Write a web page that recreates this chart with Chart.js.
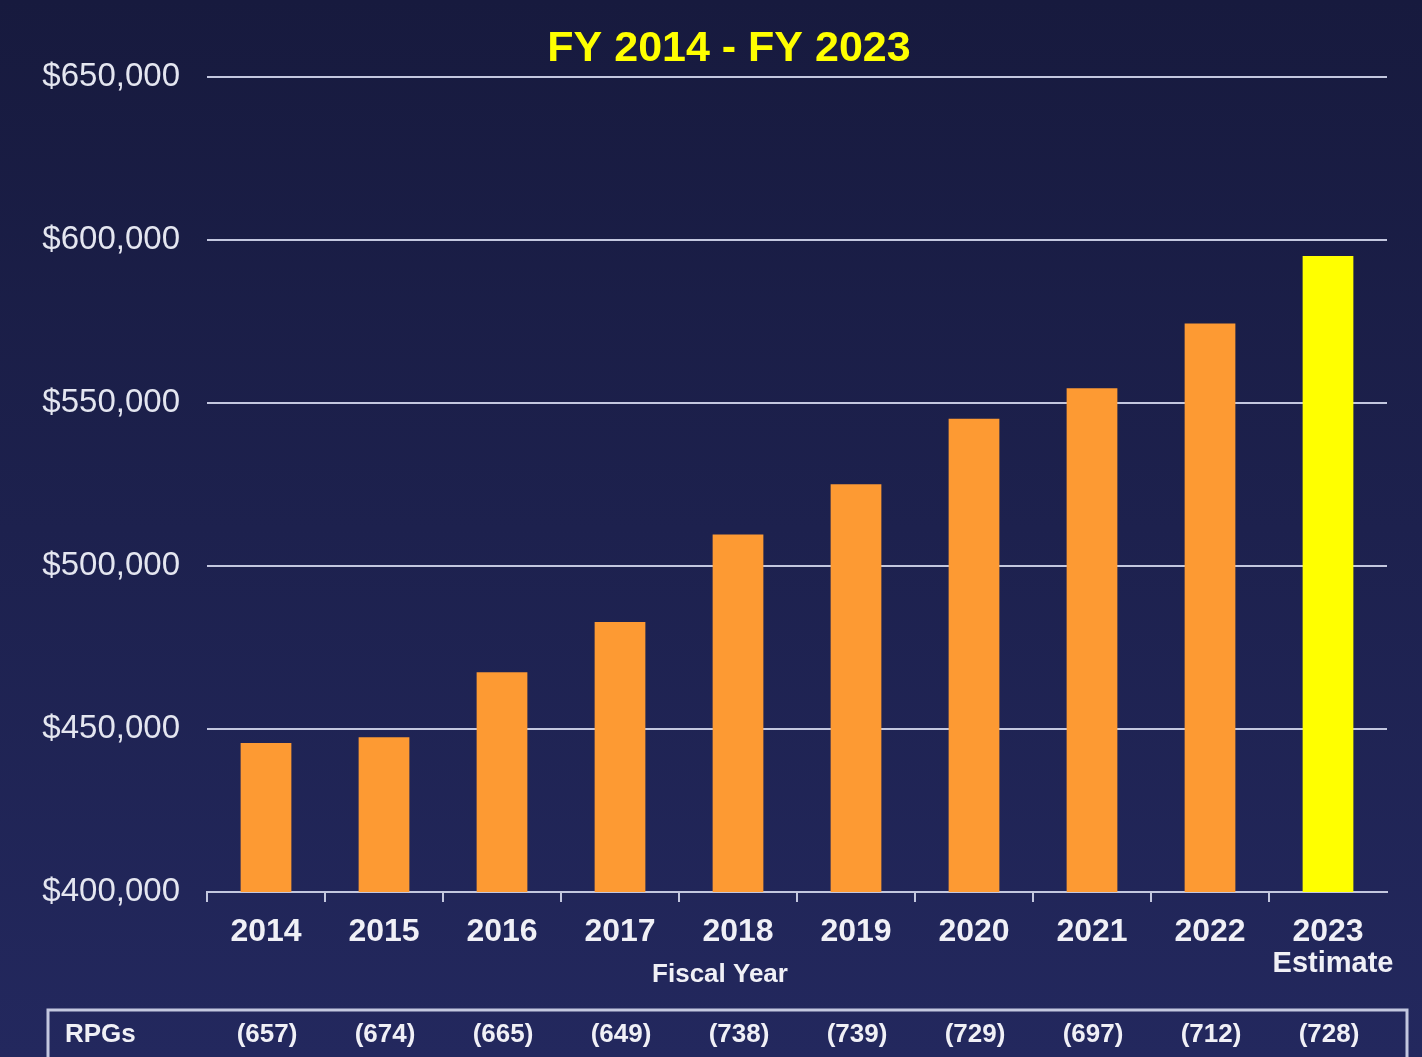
<!DOCTYPE html>
<html>
<head>
<meta charset="utf-8">
<script src="https://cdn.jsdelivr.net/npm/chart.js@4"></script>
<style>
  html, body { margin: 0; padding: 0; background: #1d2150; }
  #wrap { width: 1422px; height: 1057px; position: relative; }
</style>
</head>
<body>
<div id="wrap"><canvas id="c" width="1422" height="1057"></canvas></div>
<script>
const titleText = 'FY 2014 - FY 2023';
const categories = ['2014', '2015', '2016', '2017', '2018', '2019', '2020', '2021', '2022', '2023'];
const spending = [445700, 447500, 467400, 482800, 509700, 525100, 545200, 554500, 574400, 595100];
const rpgs = ['(657)', '(674)', '(665)', '(649)', '(738)', '(739)', '(729)', '(697)', '(712)', '(728)'];
const yTicks = [400000, 450000, 500000, 550000, 600000, 650000];
const axisTitle = 'Fiscal Year';
const estimateNote = 'Estimate';
const rowLabel = 'RPGs';

const lineColor = '#c3c7df';
const orange = '#fd9a33';
const yellow = '#ffff00';

const bgPlugin = {
  id: 'bg',
  beforeDraw(chart) {
    const ctx = chart.ctx;
    const g = ctx.createLinearGradient(0, 0, 0, chart.height);
    g.addColorStop(0, '#171a3e');
    g.addColorStop(1, '#23285e');
    ctx.save();
    ctx.fillStyle = g;
    ctx.fillRect(0, 0, chart.width, chart.height);
    ctx.restore();
  }
};

const extrasPlugin = {
  id: 'extras',
  afterDraw(chart) {
    const ctx = chart.ctx;
    const xs = chart.scales.x;
    ctx.save();
    // title
    ctx.fillStyle = yellow;
    ctx.font = 'bold 43px "Liberation Sans", Arial, sans-serif';
    ctx.textAlign = 'center';
    ctx.textBaseline = 'middle';
    ctx.fillText(titleText, 729, 49);
    // Estimate note under last category
    ctx.fillStyle = '#f0f0f6';
    ctx.font = 'bold 29px "Liberation Sans", Arial, sans-serif';
    ctx.fillText(estimateNote, xs.getPixelForValue(categories.length - 1) + 5, 964);
    // axis title
    ctx.font = 'bold 26px "Liberation Sans", Arial, sans-serif';
    ctx.fillText(axisTitle, 720, 975);
    // table box
    ctx.strokeStyle = lineColor;
    ctx.lineWidth = 3;
    ctx.beginPath();
    ctx.moveTo(48, 1070);
    ctx.lineTo(48, 1010);
    ctx.lineTo(1407, 1010);
    ctx.lineTo(1407, 1070);
    ctx.stroke();
    // row label and values
    ctx.font = 'bold 26px "Liberation Sans", Arial, sans-serif';
    ctx.textAlign = 'left';
    ctx.fillText(rowLabel, 65, 1035);
    ctx.textAlign = 'center';
    rpgs.forEach((t, i) => {
      ctx.fillText(t, xs.getPixelForValue(i) + 1, 1035);
    });
    ctx.restore();
  }
};

new Chart(document.getElementById('c'), {
  type: 'bar',
  data: {
    labels: categories,
    datasets: [{
      data: spending,
      backgroundColor: categories.map((c, i) => i === categories.length - 1 ? yellow : orange),
      borderWidth: 0,
      barPercentage: 0.43,
      categoryPercentage: 1.0
    }]
  },
  options: {
    responsive: false,
    animation: false,
    layout: { padding: { top: 77, right: 35, left: 0, bottom: 0 } },
    plugins: {
      legend: { display: false },
      tooltip: { enabled: false },
      title: { display: false }
    },
    scales: {
      x: {
        afterFit(scale) { scale.height = 165; },
        grid: {
          drawOnChartArea: false,
          drawTicks: true,
          tickLength: 10,
          lineWidth: 2,
          color: (ctx) => ctx.type === 'tick' ? lineColor : 'rgba(0,0,0,0)'
        },
        border: { display: true, color: lineColor, width: 2 },
        ticks: {
          color: '#f0f0f6',
          font: { family: '"Liberation Sans", Arial, sans-serif', size: 32, weight: 'bold' },
          padding: 11,
          maxRotation: 0,
          autoSkip: false
        }
      },
      y: {
        min: yTicks[0],
        max: yTicks[yTicks.length - 1],
        afterFit(scale) { scale.width = 207; },
        afterBuildTicks(scale) { scale.ticks = yTicks.map(v => ({ value: v })); },
        grid: {
          drawTicks: false,
          lineWidth: 2,
          color: lineColor
        },
        border: { display: false },
        ticks: {
          color: '#e4e6f0',
          font: { family: '"Liberation Sans", Arial, sans-serif', size: 33 },
          padding: 27,
          callback: (v) => '$' + Number(v).toLocaleString('en-US')
        }
      }
    }
  },
  plugins: [bgPlugin, extrasPlugin]
});
</script>
</body>
</html>
